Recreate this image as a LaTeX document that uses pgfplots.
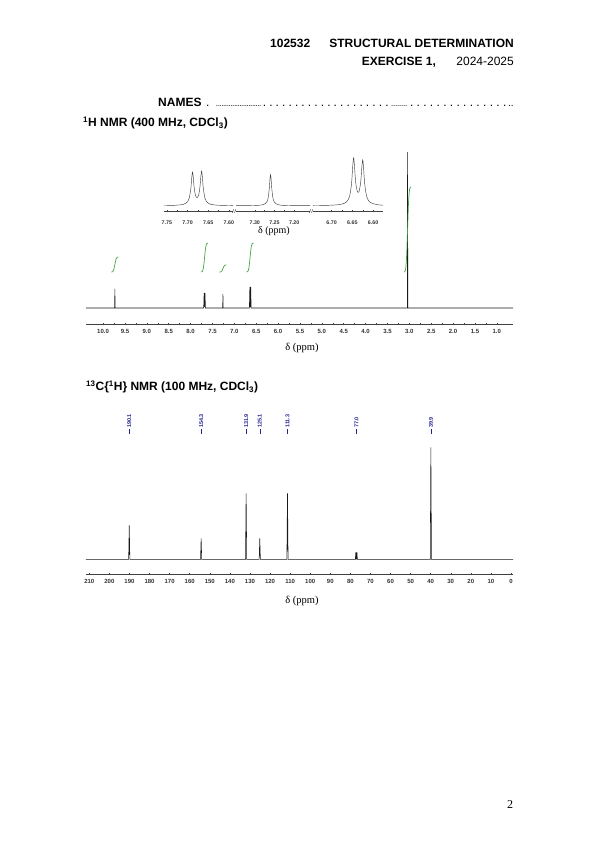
\documentclass[border=0pt]{standalone}
\usepackage{fontspec}
\setmainfont{Liberation Sans}
\newfontfamily\seriffont{Liberation Serif}
\usepackage{pgfplots}
\pgfplotsset{compat=1.18}
\definecolor{intgreen}{RGB}{70,165,70}
\definecolor{peakblue}{RGB}{35,35,150}
\definecolor{spec}{RGB}{25,25,25}
\pgfplotsset{nmr/.style={scale only axis, anchor=south west, x dir=reverse,
  axis x line=bottom, axis y line=none, clip=false,
  axis line style={-, black!75, line width=0.5pt},
  tick style={black!75, line width=0.4pt},
  major tick length=2pt, minor tick length=1.5pt, tick align=center,
  minor tick num=1,
  xticklabel style={font=\fontsize{6}{7}\selectfont\bfseries, text=black!80, inner sep=0pt, anchor=north, text height=4.3pt, text depth=0pt, yshift=-3.5pt}}}
\newcommand\dotrun[2]{\hbox to #1{\xleaders\hbox to #2{\hss.\hss}\hfill}}
\begin{document}
\begin{tikzpicture}
\useasboundingbox (0,0) rectangle (599pt,-848pt);
\fill[white] (0,0) rectangle (599pt,-848pt);
% header
\node[anchor=base west, inner sep=0, font=\bfseries\fontsize{12}{14}\selectfont] at (270pt,-48pt) {102532};
\node[anchor=base east, inner sep=0, font=\bfseries\fontsize{12}{14}\selectfont] at (514pt,-48pt) {STRUCTURAL DETERMINATION};
\node[anchor=base west, inner sep=0, font=\bfseries\fontsize{12}{14}\selectfont] at (361.7pt,-65.7pt) {EXERCISE 1,};
\node[anchor=base east, inner sep=0, font=\fontsize{12}{14}\selectfont] at (514pt,-65.7pt) {2024-2025};
\node[anchor=base west, inner sep=0, font=\bfseries\fontsize{12}{14}\selectfont] at (158pt,-106.5pt) {NAMES};
\node[anchor=base west, inner sep=0, font=\fontsize{12}{14}\selectfont] at (206pt,-106.5pt) {.};
\node[anchor=base west, inner sep=0, font=\fontsize{8}{9}\selectfont] at (216pt,-106.5pt) {\dotrun{45pt}{1.8pt}};
\node[anchor=base west, inner sep=0, font=\fontsize{12}{14}\selectfont] at (261pt,-106.5pt) {\dotrun{129pt}{6.3pt}};
\node[anchor=base west, inner sep=0, font=\fontsize{8}{9}\selectfont] at (391pt,-106.5pt) {\dotrun{16pt}{1.8pt}};
\node[anchor=base west, inner sep=0, font=\fontsize{12}{14}\selectfont] at (408pt,-106.5pt) {\dotrun{100pt}{6.3pt}};
\node[anchor=base west, inner sep=0, font=\fontsize{10}{12}\selectfont] at (508pt,-106.5pt) {..};
\node[anchor=base west, inner sep=0, font=\bfseries\fontsize{12}{14}\selectfont] at (83pt,-127pt) {\textsuperscript{1}H NMR (400 MHz, CDCl\textsubscript{3})};
\node[anchor=base west, inner sep=0, font=\bfseries\fontsize{12}{14}\selectfont] at (86pt,-390.5pt) {\textsuperscript{13}C\{\textsuperscript{1}H\} NMR (100 MHz, CDCl\textsubscript{3})};
\node[anchor=base, inner sep=0, font=\seriffont\fontsize{12}{14}\selectfont] at (510pt,-808pt) {2};
% axis labels
\node[font=\seriffont\fontsize{10.5}{12}\selectfont] at (302pt,-347.7pt) {δ (ppm)};
\node[font=\seriffont\fontsize{10}{12}\selectfont] at (274pt,-231.5pt) {δ (ppm)};
\node[font=\seriffont\fontsize{10.5}{12}\selectfont] at (302pt,-601pt) {δ (ppm)};

% ---------------- 1H main ----------------
\begin{axis}[nmr, at={(86pt,-324pt)}, width=427pt, height=186pt,
  xmin=0.63, xmax=10.39, ymin=-16, ymax=170,
  xtick={1,1.5,2,2.5,3,3.5,4,4.5,5,5.5,6,6.5,7,7.5,8,8.5,9,9.5,10},
  xticklabels={1.0,1.5,2.0,2.5,3.0,3.5,4.0,4.5,5.0,5.5,6.0,6.5,7.0,7.5,8.0,8.5,9.0,9.5,10.0}]
\addplot[spec, line width=0.55pt] coordinates {(10.39,0)(9.736,0)(9.73,19)(9.724,0)(7.70,0)(7.69,15)(7.68,1)(7.67,15)(7.66,0)(7.266,0)(7.26,14)(7.254,0)(6.655,0)(6.645,21)(6.635,1)(6.625,21)(6.615,0)(3.046,0)(3.04,156)(3.034,0)(0.63,0)};
\addplot[intgreen, line width=0.7pt, smooth] coordinates {(9.81,36)(9.78,36.3)(9.755,38.25)(9.73,43.5)(9.705,48.75)(9.68,50.7)(9.65,51)};
\addplot[intgreen, line width=0.7pt, smooth] coordinates {(7.76,36)(7.73,36.6)(7.705,40.35)(7.68,50.5)(7.655,60.65)(7.63,64.4)(7.60,65)};
\addplot[intgreen, line width=0.7pt, smooth] coordinates {(7.34,36)(7.31,36.1)(7.285,37.05)(7.26,39.5)(7.235,41.95)(7.21,42.9)(7.18,43)};
\addplot[intgreen, line width=0.7pt, smooth] coordinates {(6.72,36)(6.69,36.6)(6.665,40.35)(6.64,50.5)(6.615,60.65)(6.59,64.4)(6.56,65)};
\addplot[intgreen, line width=0.7pt, smooth] coordinates {(3.12,36)(3.09,37.7)(3.065,48.75)(3.04,78.5)(3.015,108.25)(2.99,119.3)(2.96,121)};
\end{axis}

% ---------------- inset ----------------
\begin{axis}[nmr, at={(164pt,-211pt)}, width=69pt, height=61pt,
  xmin=7.59, xmax=7.757, ymin=-5.3, ymax=55.7,
  xtick={7.60,7.65,7.70,7.75}, xticklabels={7.60,7.65,7.70,7.75},
  xticklabel style={font=\fontsize{5.3}{6}\selectfont\bfseries, yshift=-4pt}]
\addplot[black!75, line width=0.45pt, smooth] coordinates {(7.757,0.18)(7.73,0.44)(7.71,1.38)(7.70,3.88)(7.696,7.41)(7.692,17.3)(7.690,27.3)(7.688,33.6)(7.686,27.7)(7.684,18.3)(7.681,10.7)(7.677,8.06)(7.673,10.9)(7.670,18.7)(7.668,28.4)(7.666,34.6)(7.664,28.1)(7.662,17.9)(7.658,7.6)(7.654,3.96)(7.645,1.52)(7.63,0.59)(7.61,0.27)(7.59,0.15)};
\end{axis}
\begin{axis}[nmr, at={(236pt,-211pt)}, width=74pt, height=61pt,
  xmin=7.16, xmax=7.3475, ymin=-5.3, ymax=55.7,
  xtick={7.20,7.25,7.30}, xticklabels={7.20,7.25,7.30},
  xticklabel style={font=\fontsize{5.3}{6}\selectfont\bfseries, yshift=-4pt}]
\addplot[black!75, line width=0.45pt, smooth] coordinates {(7.3475,0.05)(7.30,0.24)(7.28,0.92)(7.27,3.38)(7.266,7.87)(7.263,17.9)(7.2615,26.2)(7.26,31)(7.2585,26.2)(7.257,17.9)(7.254,7.87)(7.25,3.38)(7.24,0.92)(7.22,0.24)(7.16,0.03)};
\end{axis}
\begin{axis}[nmr, at={(313pt,-211pt)}, width=70pt, height=61pt,
  xmin=6.576, xmax=6.745, ymin=-5.3, ymax=55.7,
  xtick={6.60,6.65,6.70}, xticklabels={6.60,6.65,6.70},
  xticklabel style={font=\fontsize{5.3}{6}\selectfont\bfseries, yshift=-4pt}]
\addplot[black!75, line width=0.45pt, smooth] coordinates {(6.745,0.17)(6.71,0.37)(6.68,1.18)(6.665,3.4)(6.657,8.97)(6.652,22.0)(6.649,40.0)(6.647,47.8)(6.645,40.5)(6.642,23.5)(6.638,14.2)(6.636,13.3)(6.634,14.0)(6.630,23.0)(6.627,39.0)(6.625,45.8)(6.623,38.3)(6.620,21.2)(6.615,8.7)(6.607,3.3)(6.59,1.05)(6.576,0.57)};
\end{axis}
% axis breaks
\draw[black!75, line width=0.4pt] (232.3pt,-212.8pt) -- (233.8pt,-209.2pt) (234.4pt,-212.8pt) -- (235.9pt,-209.2pt);
\draw[black!75, line width=0.4pt] (309.3pt,-212.8pt) -- (310.8pt,-209.2pt) (311.4pt,-212.8pt) -- (312.9pt,-209.2pt);

% ---------------- 13C ----------------
\begin{axis}[nmr, at={(86pt,-574.3pt)}, width=427pt, height=165pt,
  xmin=-1, xmax=211.64, ymin=-15, ymax=150,
  xtick={0,10,20,30,40,50,60,70,80,90,100,110,120,130,140,150,160,170,180,190,200,210},
  xticklabels={0,10,20,30,40,50,60,70,80,90,100,110,120,130,140,150,160,170,180,190,200,210}]
\addplot[spec, line width=0.55pt] coordinates {(211.64,0)(190.4,0)(190.1,34)(189.8,0)(154.6,0)(154.3,21)(154.0,0)(132.2,0)(131.9,66)(131.6,0)(125.4,0)(125.1,21)(124.8,0)(111.6,0)(111.3,66)(111.0,0)(77.5,0)(77.3,7)(77.15,0)(77.0,7)(76.85,0)(76.7,7)(76.5,0)(40.2,0)(39.9,112)(39.6,0)(-1,0)};
\foreach \v/\t in {190.1/190.1, 154.3/154.3, 131.9/131.9, 125.1/125.1, 111.3/111.3, 77.0/77.0, 39.9/39.9}{
  \edef\tmp{\noexpand\draw[peakblue, line width=0.5pt] (axis cs:\v,125.5) -- (axis cs:\v,130);
  \noexpand\node[rotate=90, anchor=west, text=peakblue, font=\noexpand\fontsize{5.5}{6}\noexpand\selectfont\noexpand\bfseries, inner sep=0.6pt] at (axis cs:\v,130.8) {\t};}\tmp
}
\end{axis}
\end{tikzpicture}
\end{document}
